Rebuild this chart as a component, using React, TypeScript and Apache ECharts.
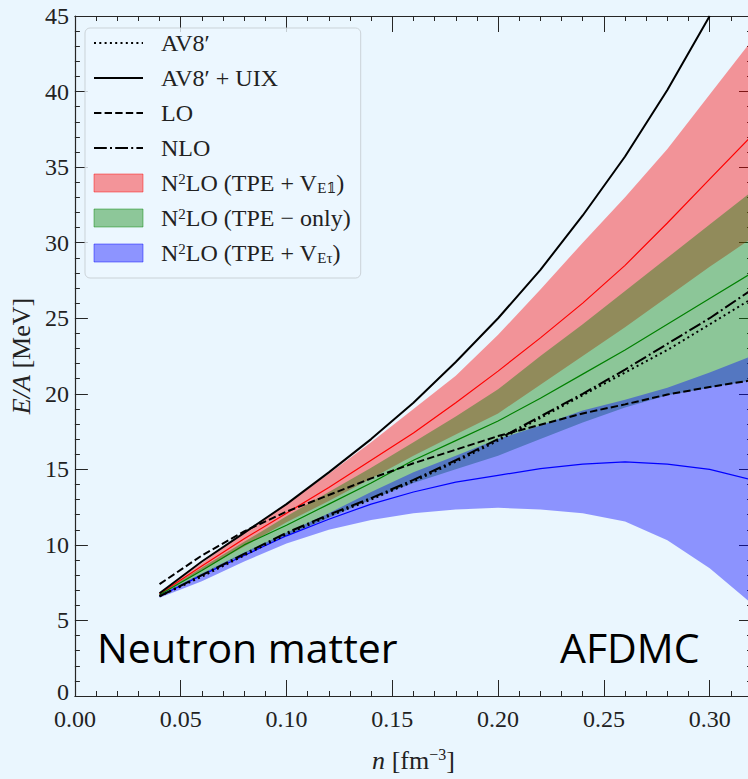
import React, { useEffect, useRef } from 'react';
import * as echarts from 'echarts';

// ---------------- data ----------------
const density = [0.04, 0.06, 0.08, 0.10, 0.12, 0.14, 0.16, 0.18, 0.20, 0.22, 0.24, 0.26, 0.28, 0.30, 0.32];

const av8p = [6.6, 7.9, 9.3, 10.7, 11.9, 13.0, 14.2, 15.5, 16.9, 18.4, 19.9, 21.4, 22.9, 24.6, 26.3];
const av8pUix = [6.8, 8.9, 10.8, 12.7, 14.8, 17.0, 19.4, 22.1, 25.0, 28.2, 31.8, 35.7, 40.1, 45.0, null];
const lo = [7.4, 9.3, 10.9, 12.2, 13.3, 14.4, 15.4, 16.3, 17.2, 17.95, 18.7, 19.3, 19.95, 20.45, 20.9];
const nlo = [6.6, 8.0, 9.4, 10.8, 12.0, 13.1, 14.3, 15.6, 17.0, 18.5, 20.0, 21.6, 23.3, 25.0, 26.9];

const e1Low = [6.7, 8.3, 9.9, 11.5, 12.9, 14.4, 15.9, 17.3, 18.7, 20.6, 22.5, 24.4, 26.4, 28.4, 30.3];
const e1Mid = [6.75, 8.6, 10.4, 12.1, 13.8, 15.6, 17.4, 19.4, 21.5, 23.7, 26.0, 28.5, 31.3, 34.2, 37.1];
const e1High = [6.8, 8.8, 10.8, 12.7, 14.7, 16.8, 19.0, 21.2, 23.9, 26.9, 30.0, 33.0, 36.2, 39.8, 43.4];

const tpeLow = [6.65, 8.0, 9.4, 10.6, 11.8, 13.0, 14.1, 15.0, 15.9, 17.0, 18.1, 19.1, 19.9, 20.4, 20.9];
const tpeMid = [6.7, 8.3, 10.0, 11.3, 12.7, 14.1, 15.6, 16.9, 18.2, 19.7, 21.3, 22.9, 24.6, 26.3, 28.0];
const tpeHigh = [6.75, 8.5, 10.2, 11.9, 13.5, 15.1, 16.8, 18.5, 20.3, 22.5, 24.6, 26.8, 29.0, 31.2, 33.4];

const etauLow = [6.5, 7.6, 8.9, 10.1, 11.0, 11.65, 12.1, 12.35, 12.45, 12.35, 12.1, 11.55, 10.3, 8.45, 6.1];
const etauMid = [6.6, 8.0, 9.3, 10.6, 11.7, 12.7, 13.5, 14.15, 14.6, 15.05, 15.35, 15.5, 15.35, 15.0, 14.3];
const etauHigh = [6.7, 8.1, 9.5, 10.8, 12.1, 13.5, 14.8, 15.9, 17.0, 17.9, 18.9, 19.6, 20.4, 21.4, 22.5];

const L_AV8 = 'AV8′';
const L_UIX = 'AV8′ + UIX';
const L_LO = 'LO';
const L_NLO = 'NLO';
const L_E1 = 'N2LO (TPE + VE1)';
const L_TPE = 'N2LO (TPE − only)';
const L_ETAU = 'N2LO (TPE + VEτ)';

// ---------------- helpers ----------------
const SERIF = '"Liberation Serif", "DejaVu Serif", serif';
const BG = '#eaf6fe';
const AXIS = '#262626';
const TXT = '#222222';

function pts(ys: (number | null)[]) {
  const out: [number, number][] = [];
  density.forEach((n, i) => {
    const v = ys[i];
    if (v !== null && v !== undefined) out.push([n, v]);
  });
  return out;
}

function band(name: string, lw: number[], hi: number[], color: string) {
  return {
    type: 'custom',
    name,
    silent: true,
    clip: true,
    itemStyle: { color },
    encode: { x: 0, y: [1, 2] },
    data: density.map((n, i) => [n, lw[i], hi[i]]),
    renderItem: (params: any, api: any) => {
      if (params.dataIndexInside !== 0) return null;
      const len = params.dataInsideLength;
      const upper: number[][] = [];
      const lower: number[][] = [];
      for (let j = 0; j < len; j++) {
        const x = api.value(0, j);
        upper.push(api.coord([x, api.value(2, j)]));
        lower.push(api.coord([x, api.value(1, j)]));
      }
      return {
        type: 'polygon',
        shape: { points: upper.concat(lower.reverse()) },
        style: { fill: color, stroke: null },
      };
    },
  };
}

function centerLine(name: string, ys: number[], color: string) {
  return {
    type: 'line',
    name,
    data: pts(ys),
    symbol: 'none',
    silent: true,
    lineStyle: { color, width: 1.2 },
    itemStyle: { color },
  };
}

function blackLine(name: string, ys: (number | null)[], type: any) {
  return {
    type: 'line',
    name,
    data: pts(ys),
    symbol: 'none',
    silent: true,
    lineStyle: { color: '#000', width: 2, type },
    itemStyle: { color: '#000' },
  };
}

const legendText: Record<string, string> = {
  [L_AV8]: '{t|AV8′}',
  [L_UIX]: '{t|AV8′ + UIX}',
  [L_LO]: '{t|LO}',
  [L_NLO]: '{t|NLO}',
  [L_E1]: '{t|N}{sup|2}{t|LO (TPE + V}{sub|E}{subm|𝟙}{t|)}',
  [L_TPE]: '{t|N}{sup|2}{t|LO (TPE − only)}',
  [L_ETAU]: '{t|N}{sup|2}{t|LO (TPE + V}{sub|Eτ}{t|)}',
};

const tickLine = { color: AXIS, width: 1 };

function xAxisDef(position: 'bottom' | 'top', major: boolean, withLabel: boolean) {
  const a: any = {
    type: 'value',
    position,
    min: 0,
    max: 0.32,
    interval: major ? 0.05 : 0.01,
    axisLine: { show: major, onZero: false, lineStyle: { color: AXIS, width: 1.2 } },
    axisTick: { show: true, inside: true, length: major ? 16 : 5, lineStyle: tickLine },
    axisLabel: { show: false },
    splitLine: { show: false },
  };
  if (withLabel) {
    a.axisLabel = {
      show: true,
      margin: 14,
      lineHeight: 18,
      showMaxLabel: false,
      formatter: (v: number) => v.toFixed(2),
      fontFamily: SERIF,
      fontSize: 24,
      color: TXT,
    };
    a.name = '{i|n}  {t|[fm}{sup|−3}{t|]}';
    a.nameLocation = 'middle';
    a.nameGap = 50;
    a.nameTextStyle = {
      rich: {
        i: { fontFamily: SERIF, fontStyle: 'italic', fontSize: 26, color: TXT, lineHeight: 28 },
        t: { fontFamily: SERIF, fontSize: 26, color: TXT, lineHeight: 28 },
        sup: { fontFamily: SERIF, fontSize: 16, color: TXT, lineHeight: 14, verticalAlign: 'top' },
      },
    };
  }
  return a;
}

function yAxisDef(position: 'left' | 'right', withLabel: boolean) {
  const a: any = {
    type: 'value',
    position,
    min: 0,
    max: 45,
    interval: 5,
    axisLine: { show: true, onZero: false, lineStyle: { color: AXIS, width: 1.2 } },
    axisTick: { show: true, inside: true, length: 13, lineStyle: tickLine },
    minorTick: { show: true, splitNumber: 5, length: 5, lineStyle: tickLine },
    axisLabel: { show: false },
    splitLine: { show: false },
    minorSplitLine: { show: false },
  };
  if (withLabel) {
    a.axisLabel = {
      show: true,
      margin: 6,
      lineHeight: 18,
      fontFamily: SERIF,
      fontSize: 24,
      color: TXT,
      formatter: (v: number) => (v === 0 ? '{z|0}' : String(v)),
      rich: {
        z: { fontFamily: SERIF, fontSize: 24, color: TXT, lineHeight: 18, padding: [0, 0, 8, 0] },
      },
    };
    a.name = '{i|E/A}  {t|[MeV]}';
    a.nameLocation = 'middle';
    a.nameGap = 33;
    a.nameTextStyle = {
      rich: {
        i: { fontFamily: SERIF, fontStyle: 'italic', fontSize: 26, color: TXT },
        t: { fontFamily: SERIF, fontSize: 26, color: TXT },
      },
    };
  }
  return a;
}

export default function App() {
  const ref = useRef<HTMLDivElement>(null);

  useEffect(() => {
    if (!ref.current) return;
    const chart = echarts.init(ref.current, null, { renderer: 'svg' });

    const hideSymbol = { opacity: 0 };

    const option: any = {
      animation: false,
      backgroundColor: BG,
      grid: { left: 72, top: 16, width: 680, height: 680 },
      xAxis: [
        xAxisDef('bottom', true, true),
        xAxisDef('bottom', false, false),
        xAxisDef('top', true, false),
        xAxisDef('top', false, false),
      ],
      yAxis: [yAxisDef('left', true), yAxisDef('right', false)],
      legend: {
        left: 85,
        top: 28,
        orient: 'vertical',
        padding: [3, 10, 13, 8],
        itemGap: 11,
        itemWidth: 49,
        itemHeight: 18,
        selectedMode: false,
        backgroundColor: 'rgba(236,247,255,0.8)',
        borderColor: 'rgba(200,206,212,0.9)',
        borderWidth: 1,
        borderRadius: 5,
        formatter: (name: string) => legendText[name] || name,
        textStyle: {
          fontFamily: SERIF,
          fontSize: 24,
          color: TXT,
          padding: [0, 0, 0, 13],
          rich: {
            t: { fontFamily: SERIF, fontSize: 24, lineHeight: 24, color: TXT },
            sup: { fontFamily: SERIF, fontSize: 15, lineHeight: 14, verticalAlign: 'top', color: TXT },
            sub: { fontFamily: SERIF, fontSize: 15, lineHeight: 14, verticalAlign: 'bottom', color: TXT },
            subm: { fontFamily: '"DejaVu Serif", "DejaVu Sans"', fontSize: 14, lineHeight: 14, verticalAlign: 'bottom', color: TXT },
          },
        },
        data: [
          { name: L_AV8, itemStyle: hideSymbol },
          { name: L_UIX, itemStyle: hideSymbol },
          { name: L_LO, itemStyle: hideSymbol },
          { name: L_NLO, itemStyle: hideSymbol },
          { name: L_E1, icon: 'rect', itemStyle: { color: 'rgba(255,0,0,0.4)', borderColor: 'rgba(255,0,0,0.45)', borderWidth: 1 } },
          { name: L_TPE, icon: 'rect', itemStyle: { color: 'rgba(0,128,0,0.4)', borderColor: 'rgba(0,128,0,0.45)', borderWidth: 1 } },
          { name: L_ETAU, icon: 'rect', itemStyle: { color: 'rgba(0,0,255,0.4)', borderColor: 'rgba(0,0,255,0.45)', borderWidth: 1 } },
        ],
      },
      graphic: [
        {
          type: 'text',
          x: 97,
          y: 647,
          silent: true,
          style: { text: 'Neutron matter', font: '41px "Open Sans"', fill: '#000', verticalAlign: 'middle' },
        },
        {
          type: 'text',
          x: 560,
          y: 647,
          silent: true,
          style: { text: 'AFDMC', font: '41px "Open Sans"', fill: '#000', verticalAlign: 'middle' },
        },
      ],
      series: [
        band(L_E1, e1Low, e1High, 'rgba(255,0,0,0.4)'),
        band(L_TPE, tpeLow, tpeHigh, 'rgba(0,128,0,0.4)'),
        band(L_ETAU, etauLow, etauHigh, 'rgba(0,0,255,0.4)'),
        centerLine('E1 central', e1Mid, '#ff0000'),
        centerLine('TPE central', tpeMid, '#008000'),
        centerLine('Etau central', etauMid, '#0000ff'),
        blackLine(L_AV8, av8p, [2, 3.3]),
        blackLine(L_UIX, av8pUix, 'solid'),
        blackLine(L_LO, lo, [7.4, 3.2]),
        blackLine(L_NLO, nlo, [12.8, 3.2, 2, 3.2]),
      ],
    };

    chart.setOption(option);
    return () => chart.dispose();
  }, []);

  return (
    <div
      style={{
        position: 'fixed',
        left: 0,
        top: 0,
        width: 748,
        height: 779,
        overflow: 'hidden',
        background: BG,
      }}
    >
      <div ref={ref} style={{ width: 800, height: 779 }} />
    </div>
  );
}
